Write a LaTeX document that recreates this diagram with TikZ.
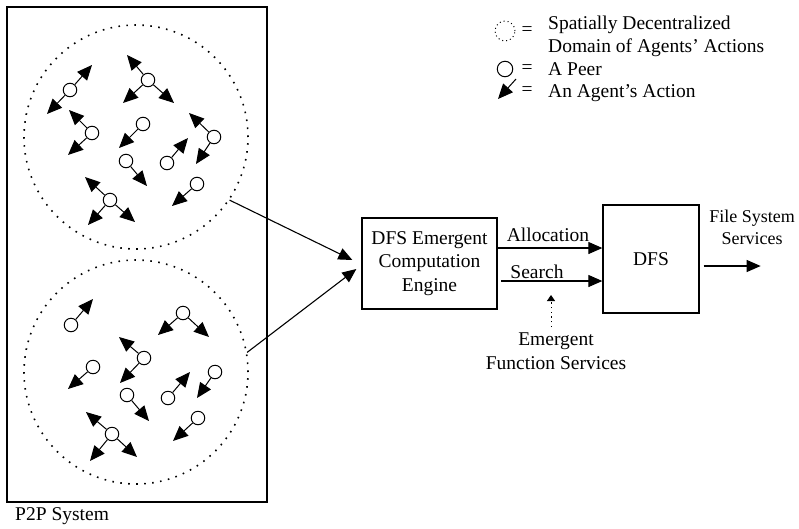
\documentclass[tikz,border=0pt]{standalone}
\usepackage{fontspec}
\setmainfont{Liberation Serif}
\usetikzlibrary{arrows.meta}
\begin{document}
\begin{tikzpicture}[x=1pt,y=-1pt,
  font=\fontsize{19.5}{23.5}\selectfont,
  peer/.style={circle,draw,fill=white,line width=1pt,minimum size=13.5pt,inner sep=0pt},
  act/.style={line width=1pt,-{Triangle[length=15pt,width=13pt]}},
  flow/.style={line width=1.1pt,-{Triangle[length=14pt,width=12pt]}},
  agentzone/.style={circle,draw,line width=1.6pt,dash pattern=on 1.6pt off 6.4pt,minimum size=224pt,inner sep=0pt},
  box/.style={draw,line width=1.3pt,inner sep=0pt,align=center},
  lbl/.style={inner sep=0pt}]
\useasboundingbox (0,0) rectangle (799,528);

% P2P system frame and its two domains
\node[draw,line width=1.3pt,minimum width=260pt,minimum height=495pt,inner sep=0pt] (p2p) at (137,254.5) {};
\node[lbl,anchor=base west] (p2plabel) at (15,520) {P2P System};
\node[agentzone] (d1) at (136,137) {};
\node[agentzone] (d2) at (136,372) {};

% peers of the upper domain
\foreach \p/\x/\y in {a1/70/90,a2/148/80,a3/92/133,a4/143/124,a5/126/161,
                      a6/167/163,a7/214/137,a8/197/184,a9/110/200}
  \node[peer] (\p) at (\x,\y) {};
% peers of the lower domain
\foreach \p/\x/\y in {b1/71/325,b2/183/313,b3/144/358,b4/93/367,b5/127/395,
                      b6/168/398,b7/215/372,b8/198/418,b9/112/434}
  \node[peer] (\p) at (\x,\y) {};

% agents' actions
\foreach \p/\x/\y [count=\i] in {a1/92/65,a1/47/114,a2/127/55,a2/123/103,a2/174/103,
    a3/69/110,a3/68/155,a4/119/148,a5/147/186,a6/188/138,a7/189/113,a7/196/164,
    a8/172/206,a9/85/177,a9/88/225,a9/135/222,
    b1/93/299,b2/158/335,b2/209/337,b3/119/337,b3/120/383,b4/68/389,b5/149/421,
    b6/190/372,b7/197/398,b8/173/441,b9/86/412,b9/90/461,b9/137/457}
  \draw[act] (\p) -- (\x,\y) coordinate (tip\i);

% computation engine and DFS
\node[box,minimum width=135pt,minimum height=91pt] (engine) at (429.5,263.5)
  {DFS Emergent\\Computation\\Engine};
\node[box,minimum width=96pt,minimum height=108pt] (dfs) at (651,259) {DFS};

\draw[flow] (d1.-34) -- ([shift={(-9,-3.5)}]engine.west);
\draw[flow] (d2.10) -- ([shift={(-5,5.5)}]engine.west);

\coordinate (ya) at (0,248);
\draw[flow] (engine.east |- ya) -- (dfs.west |- ya);
\node[lbl] (alloc) at (548,235) {Allocation};

\coordinate (ss) at (501,281);
\draw[flow] (ss) -- (dfs.west |- ss);
\node[lbl] (srch) at (537,272) {Search};

\node[lbl,align=center] (efs) at (556,351) {Emergent\\Function Services};
\coordinate (es) at (551,327);
\draw[line width=1pt,dash pattern=on 1.2pt off 3.5pt,-{Triangle[length=6pt,width=8pt]}]
  (es) -- (551,295) coordinate (et);

\draw[flow] ([shift={(4,7)}]dfs.east) -- ++(57,0) coordinate (out);
\node[lbl,align=center,font=\fontsize{18}{22}\selectfont] (fss) at (752,227) {File System\\Services};

% legend
\node[circle,draw,line width=1pt,dash pattern=on 1pt off 3pt,minimum size=20pt,inner sep=0pt] (lgdom) at (505,31) {};
\node[lbl] (eq1) at (527,31) {=};
\node[lbl,anchor=base west] (lgt1) at (548,29.5) {Spatially Decentralized};
\node[lbl,anchor=base west] (lgt2) at (548,52.5) {Domain of Agents' Actions};
\node[peer,minimum size=15.5pt] (lgpeer) at (505,69) {};
\node[lbl] (eq2) at (527,69) {=};
\node[lbl,anchor=base west] (lgt3) at (548,75) {A Peer};
\coordinate (lga) at (516,79);
\draw[act] (lga) -- (498,99) coordinate (lgtip);
\node[lbl] (eq3) at (527,91) {=};
\node[lbl,anchor=base west] (lgt4) at (548,97.5) {An Agent's Action};
\end{tikzpicture}
\end{document}
